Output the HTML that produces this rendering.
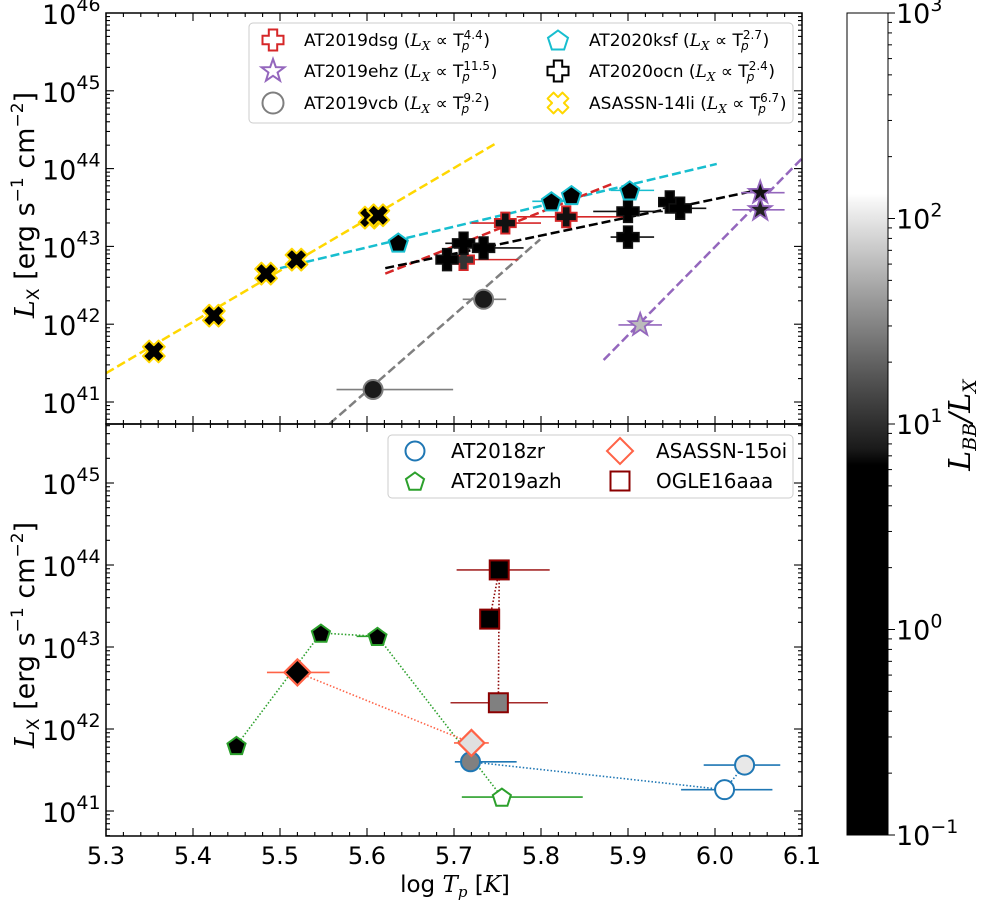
<!DOCTYPE html>
<html><head><meta charset="utf-8">
<style>
body{margin:0;background:#fff;}
svg{display:block;font-family:"DejaVu Sans","Liberation Sans",sans-serif;}
</style></head>
<body>
<svg id="chart" width="995" height="900" viewBox="0 0 995 900" xmlns="http://www.w3.org/2000/svg">
<defs>
<clipPath id="clipTop"><rect x="106" y="13" width="696" height="411"/></clipPath>
<clipPath id="clipBot"><rect x="106" y="424" width="696" height="412"/></clipPath>
<linearGradient id="cbGrad" x1="0" y1="1" x2="0" y2="0">
<stop offset="0" stop-color="#000"/>
<stop offset="0.45" stop-color="#000"/>
<stop offset="0.47" stop-color="#1a1a1a"/>
<stop offset="0.55" stop-color="#505050"/>
<stop offset="0.65" stop-color="#999"/>
<stop offset="0.77" stop-color="#f5f5f5"/>
<stop offset="0.78" stop-color="#fff"/>
<stop offset="1" stop-color="#fff"/>
</linearGradient>
</defs>
<g id="layer"></g>
</svg>
<script>
// ---------- data ----------
const li14X=[5.355,5.424,5.484,5.519,5.603,5.613];
const li14Y=[41.65,42.11,42.65,42.83,43.37,43.40];
const li14Fit=[5.3,41.37,5.749,44.33];

const ksfX=[5.636,5.812,5.835,5.902];
const ksfY=[43.05,43.58,43.66,43.72];
const ksfErrLo=[5.636,5.79,5.835,5.88];
const ksfErrHi=[5.636,5.83,5.835,5.93];
const ksfFit=[5.5,42.72,6.002,44.06];

const dsgX=[5.711,5.759,5.829];
const dsgY=[42.83,43.30,43.38];
const dsgErrLo=[5.69,5.72,5.772];
const dsgErrHi=[5.774,5.80,5.898];
const dsgFill=["#333","#111","#111"];
const dsgFit=[5.621,42.65,5.881,43.80];

const ocnX=[5.692,5.711,5.734,5.900,5.900,5.948,5.960];
const ocnY=[42.83,43.04,42.98,43.45,43.12,43.57,43.49];
const ocnErrLo=[5.68,5.69,5.70,5.86,5.88,5.94,5.94];
const ocnErrHi=[5.70,5.74,5.78,5.94,5.93,5.96,5.99];
const ocnFit=[5.621,42.72,6.052,43.73];

const ehzX=[5.914,6.052,6.052];
const ehzY=[41.99,43.69,43.47];
const ehzErrLo=[5.889,6.03,6.02];
const ehzErrHi=[5.939,6.08,6.08];
const ehzFill=["#bbb","#111","#222"];
const ehzFit=[5.872,41.54,6.1,44.13];

const vcbX=[5.607,5.734];
const vcbY=[41.16,42.32];
const vcbErrLo=[5.565,5.71];
const vcbErrHi=[5.699,5.76];
const vcbFit=[5.557,40.72,5.799,43.09];

const zrX=[5.719,6.011,6.034];
const zrY=[41.60,41.26,41.56];
const zrFill=["#808080","#fff","#e8e8e8"];
const zrErrLo=[5.701,5.961,5.987];
const zrErrHi=[5.772,6.066,6.075];

const azhX=[5.450,5.547,5.612,5.755];
const azhY=[41.80,43.17,43.13,41.17];
const azhFill=["#000","#000","#000","#fff"];
const azhErrLo=[5.445,5.547,5.588,5.709];
const azhErrHi=[5.455,5.547,5.612,5.848];

const oiX=[5.520,5.720];
const oiY=[42.69,41.83];
const oiFill=["#000","#e0e0e0"];
const oiErrLo=[5.485,5.700];
const oiErrHi=[5.557,5.740];

const ogX=[5.741,5.752,5.751];
const ogY=[43.34,43.94,42.32];
const ogFill=["#000","#000","#808080"];
const ogErrLo=[5.741,5.703,5.696];
const ogErrHi=[5.741,5.810,5.808];

const xTicks=[5.3,5.4,5.5,5.6,5.7,5.8,5.9,6.0,6.1];
const topDecades=[41,42,43,44,45,46];
const botDecades=[41,42,43,44,45];
const cbDecades=[-1,0,1,2,3];

// ---------- scales ----------
const X0=106,X1=802;
function xs(v){return X0+(v-5.3)*870;}
function yt(l){return 13+(46-l)*77.8;}
function yb(l){return 483+(45-l)*82;}
function ycb(l){return 835-(l+1)*205.5;}

const NS="http://www.w3.org/2000/svg";
const layer=document.getElementById('layer');
function el(tag,attrs,parent){const e=document.createElementNS(NS,tag);for(const k in attrs)e.setAttribute(k,attrs[k]);(parent||layer).appendChild(e);return e;}
function grp(name,clip){const g=el('g',clip?{'clip-path':'url(#'+clip+')'}:{});


return g;}

function plusPts(cx,cy,s){const a=s/2,t=s*0.2;return [[-t,-a],[t,-a],[t,-t],[a,-t],[a,t],[t,t],[t,a],[-t,a],[-t,t],[-a,t],[-a,-t],[-t,-t]].map(p=>(cx+p[0])+','+(cy+p[1])).join(' ');}
function xPts(cx,cy,s){const a=s/2,t=s*0.2,c=Math.SQRT1_2;return [[-t,-a],[t,-a],[t,-t],[a,-t],[a,t],[t,t],[t,a],[-t,a],[-t,t],[-a,t],[-a,-t],[-t,-t]].map(p=>(cx+(p[0]-p[1])*c)+','+(cy+(p[0]+p[1])*c)).join(' ');}
function polyPts(cx,cy,r,n,rin){const pts=[];const m=rin?2*n:n;for(let i=0;i<m;i++){const ang=-Math.PI/2+i*2*Math.PI/m;const rr=rin&&(i%2)?rin:r;pts.push((cx+rr*Math.cos(ang)).toFixed(2)+','+(cy+rr*Math.sin(ang)).toFixed(2));}return pts.join(' ');}
function marker(g,type,cx,cy,size,fill,stroke,sw){
 let e;
 if(type==='plus')e=el('polygon',{points:plusPts(cx,cy,size),fill,stroke,'stroke-width':sw},g);
 else if(type==='x')e=el('polygon',{points:xPts(cx,cy,size),fill,stroke,'stroke-width':sw,'stroke-linejoin':'round'},g);
 else if(type==='circle')e=el('circle',{cx,cy,r:size/2,fill,stroke,'stroke-width':sw},g);
 else if(type==='pent')e=el('polygon',{points:polyPts(cx,cy+1,size/2,5),fill,stroke,'stroke-width':sw},g);
 else if(type==='star')e=el('polygon',{points:polyPts(cx,cy,size/2,5,size/5),fill,stroke,'stroke-width':sw},g);
 else if(type==='diamond')e=el('polygon',{points:polyPts(cx,cy,size/2,4),fill,stroke,'stroke-width':sw},g);
 else if(type==='square')e=el('rect',{x:cx-size/2,y:cy-size/2,width:size,height:size,fill,stroke,'stroke-width':sw},g);
 return e;
}

function series(name,clip,ys,X,Y,lo,hi,type,size,fills,color,errColor,sw){
 const g=grp(name,clip);
 if(lo)for(let i=0;i<X.length;i++){
  const ln=el('line',{x1:xs(lo[i]),x2:xs(hi[i]),y1:ys(Y[i]),y2:ys(Y[i]),stroke:errColor,'stroke-width':1.6},g);
  
  
 }
 for(let i=0;i<X.length;i++){
  const f=Array.isArray(fills)?fills[i]:fills;
  const m=marker(g,type,xs(X[i]),ys(Y[i]),size,f,color,sw);
  
  
 }
}
function fitLine(name,fit,color){
 const g=grp(name,'clipTop');
 const l=el('line',{x1:xs(fit[0]),y1:yt(fit[1]),x2:xs(fit[2]),y2:yt(fit[3]),stroke:color,'stroke-width':2.5,'stroke-dasharray':'9,4'},g);
 
 
}
function connect(name,X,Y,color){
 const g=grp(name,'clipBot');
 const pl=el('polyline',{points:X.map((x,i)=>xs(x)+','+yb(Y[i])).join(' '),fill:'none',stroke:color,'stroke-width':1.6,'stroke-dasharray':'1.5,2'},g);
 
 
}

// ---------- top panel ----------
fitLine('fit-asassn14li',li14Fit,'#ffd700');
fitLine('fit-at2020ksf',ksfFit,'#17becf');
fitLine('fit-at2019dsg',dsgFit,'#d62728');
fitLine('fit-at2020ocn',ocnFit,'#000');
fitLine('fit-at2019ehz',ehzFit,'#9467bd');
fitLine('fit-at2019vcb',vcbFit,'#7f7f7f');
series('at2019vcb-points','clipTop',yt,vcbX,vcbY,vcbErrLo,vcbErrHi,'circle',19,'#1a1a1a','#7f7f7f','#7f7f7f',2);
series('at2019dsg-points','clipTop',yt,dsgX,dsgY,dsgErrLo,dsgErrHi,'plus',21,dsgFill,'#d62728','#d62728',1.8);
series('at2020ocn-points','clipTop',yt,ocnX,ocnY,ocnErrLo,ocnErrHi,'plus',22,'#000','#111','#111',1.5);
series('asassn14li-points','clipTop',yt,li14X,li14Y,null,null,'x',22,'#000','#ffd700','#ffd700',2);
series('at2020ksf-points','clipTop',yt,ksfX,ksfY,ksfErrLo,ksfErrHi,'pent',20,'#000','#17becf','#17becf',2);
series('at2019ehz-points','clipTop',yt,ehzX,ehzY,ehzErrLo,ehzErrHi,'star',24,ehzFill,'#9467bd','#9467bd',1.8);

// ---------- bottom panel ----------
connect('at2019azh-track',azhX,azhY,'#2ca02c');
connect('asassn15oi-track',oiX,oiY,'#ff6347');
connect('at2018zr-track',zrX,zrY,'#1f77b4');
connect('ogle16aaa-track',ogX,ogY,'#8b0000');
series('ogle16aaa-points','clipBot',yb,ogX,ogY,ogErrLo,ogErrHi,'square',19,ogFill,'#8b0000','#a52a2a',2);
series('at2019azh-points','clipBot',yb,azhX,azhY,azhErrLo,azhErrHi,'pent',19,azhFill,'#2ca02c','#2ca02c',2);
series('at2018zr-points','clipBot',yb,zrX,zrY,zrErrLo,zrErrHi,'circle',19,zrFill,'#1f77b4','#1f77b4',2);
series('asassn15oi-points','clipBot',yb,oiX,oiY,oiErrLo,oiErrHi,'diamond',26,oiFill,'#ff6347','#ff6347',2.2);

// ---------- axes ----------
function frame(name,y0,y1){const r=el('rect',{x:X0,y:y0,width:X1-X0,height:y1-y0,fill:'none',stroke:'#000','stroke-width':1.5});}
frame('top-panel-frame',13,424);
frame('bottom-panel-frame',424,836);
const axg=grp('axis-ticks');
function tickLine(x1,y1,x2,y2){el('line',{x1,y1,x2,y2,stroke:'#000','stroke-width':1.1},axg);}
[[13,424],[424,836]].forEach(([ya,yb2])=>{
 for(let k=0;k<=40;k++){const v=5.3+k*0.02;const x=xs(v);const L=(k%5===0)?8:4;
  tickLine(x,ya,x,ya+L);tickLine(x,yb2,x,yb2-L);}
});
function yTicks(ys,lo,hi){
 for(let d=lo;d<=hi;d++){for(let m=1;m<10;m++){const l=d+Math.log10(m);const y=ys(l);if(m===1){tickLine(X0,y,X0+8,y);tickLine(X1,y,X1-8,y);}else{tickLine(X0,y,X0+4,y);tickLine(X1,y,X1-4,y);}}}
}
yTicks(v=>{const y=yt(v);return (y>=13&&y<=424)?y:-100;},40,45);
yTicks(v=>{const y=yb(v);return (y>=424&&y<=836)?y:-100;},40,45);
function txt(s,x,y,size,anchor,name,extra){const t=el('text',Object.assign({x,y,'font-size':size,'text-anchor':anchor||'start',fill:'#000'},extra||{}));t.textContent=s;return t;}
xTicks.forEach(v=>{txt(v.toFixed(1),xs(v),864,24,'middle','x-tick-label');});
function decLabel(d,y,name){const t=txt('10',42,y+11,27,'start',name);const s=el('tspan',{dy:-13,'font-size':19},t);s.textContent=String(d);}
topDecades.forEach(d=>decLabel(d,yt(d),'top-y-tick-label'));
botDecades.forEach(d=>decLabel(d,yb(d),'bottom-y-tick-label'));
const xt=txt('log ',455,892,23,'middle','x-axis-title');
let s1=el('tspan',{'font-style':'italic','font-family':'DejaVu Serif, Liberation Serif, serif'},xt);s1.textContent='T';
let s2=el('tspan',{'font-style':'italic','font-size':15,dy:5,'font-family':'DejaVu Serif, Liberation Serif, serif'},xt);s2.textContent='p';
let s3=el('tspan',{dy:-5},xt);s3.textContent=' [';
let s4=el('tspan',{'font-style':'italic','font-family':'DejaVu Serif, Liberation Serif, serif'},xt);s4.textContent='K';
let s5=el('tspan',{},xt);s5.textContent=']';
function yTitle(cy,name){
 const t=txt('',0,0,27,'middle',name,{transform:'translate(34,'+cy+') rotate(-90)'});
 let a=el('tspan',{'font-style':'italic','font-family':'DejaVu Serif, Liberation Serif, serif'},t);a.textContent='L';
 let b=el('tspan',{'font-size':17,dy:5},t);b.textContent='X';
 let c=el('tspan',{dy:-5},t);c.textContent=' [erg s';
 let d=el('tspan',{'font-size':17,dy:-11},t);d.textContent='−1';
 let e=el('tspan',{dy:11},t);e.textContent=' cm';
 let f=el('tspan',{'font-size':17,dy:-11},t);f.textContent='−2';
 let g2=el('tspan',{dy:11},t);g2.textContent=']';
}
yTitle(205,'top-y-axis-title');
yTitle(635,'bottom-y-axis-title');

// ---------- legends ----------
function legendBox(name,x,y,w,h){const r=el('rect',{x,y,width:w,height:h,rx:4,fill:'#fff','fill-opacity':0.85,stroke:'#ccc','stroke-width':1});}
legendBox('top-legend',249,23,544,100);
const topLeg=[
 ['AT2019dsg','4.4','plus','#d62728',273,40],
 ['AT2019ehz','11.5','star','#9467bd',273,71],
 ['AT2019vcb','9.2','circle','#7f7f7f',273,103],
 ['AT2020ksf','2.7','pent','#17becf',558,40],
 ['AT2020ocn','2.4','plus','#000',558,71],
 ['ASASSN-14li','6.7','x','#ffd700',558,103]];
topLeg.forEach(([n,p,type,c,mx,my])=>{
 const g=grp('legend-entry-'+n.toLowerCase());
 marker(g,type,mx,my,type==='star'?24:21,'#fff',c,2);
 const t=el('text',{x:mx+31,y:my+6,'font-size':17,fill:'#000'},g);
 let a=el('tspan',{},t);a.textContent=n+' (';
 let b=el('tspan',{'font-style':'italic','font-family':'DejaVu Serif, Liberation Serif, serif'},t);b.textContent='L';
 let b2=el('tspan',{'font-style':'italic','font-size':12,dy:4,'font-family':'DejaVu Serif, Liberation Serif, serif'},t);b2.textContent='X';
 let c1=el('tspan',{dy:-4},t);c1.textContent=' ∝  T';
 let c2=el('tspan',{'font-size':12,dy:-7},t);c2.textContent=p;
 let c3=el('tspan',{'font-size':12,'font-style':'italic',dy:11,dx:-(p.length*7)},t);c3.textContent='p';
 let c4=el('tspan',{dy:-4,dx:(p.length*7-7)},t);c4.textContent=')';
});
legendBox('bottom-legend',388,435,405,63);
const botLeg=[['AT2018zr','circle','#1f77b4',415,451],['AT2019azh','pent','#2ca02c',415,481],['ASASSN-15oi','diamond','#ff6347',620,451],['OGLE16aaa','square','#8b0000',620,481]];
botLeg.forEach(([n,type,c,mx,my])=>{
 const g=grp('legend-entry-'+n.toLowerCase());
 marker(g,type,mx,my,type==='diamond'?26:19,'#fff',c,2);
 const t=el('text',{x:mx+36,y:my+7,'font-size':20,fill:'#000'},g);t.textContent=n;
});

// ---------- colorbar ----------
const cb=el('rect',{x:847,y:13,width:41,height:822,fill:'url(#cbGrad)',stroke:'#000','stroke-width':1});


const cbt=grp('colorbar-ticks');
for(let d=-1;d<3;d++)for(let m=1;m<10;m++){const y=ycb(d+Math.log10(m));el('line',{x1:888,x2:m===1?895:892,y1:y,y2:y,stroke:'#000','stroke-width':1},cbt);}
el('line',{x1:888,x2:895,y1:ycb(3),y2:ycb(3),stroke:'#000','stroke-width':1},cbt);
cbDecades.forEach(d=>{const t=txt('10',896,ycb(d)+10,27,'start','colorbar-tick-label');const s=el('tspan',{dy:-12,'font-size':19},t);s.textContent=d<0?'−'+Math.abs(d):String(d);});
const cbl=txt('',0,0,30,'middle','colorbar-title',{transform:'translate(970,425) rotate(-90)','font-style':'italic','font-family':'DejaVu Serif, Liberation Serif, serif'});
let q1=el('tspan',{},cbl);q1.textContent='L';
let q2=el('tspan',{'font-size':19,dy:6},cbl);q2.textContent='BB';
let q3=el('tspan',{dy:-6},cbl);q3.textContent='/L';
let q4=el('tspan',{'font-size':19,dy:6},cbl);q4.textContent='X';
</script>
</body></html>
